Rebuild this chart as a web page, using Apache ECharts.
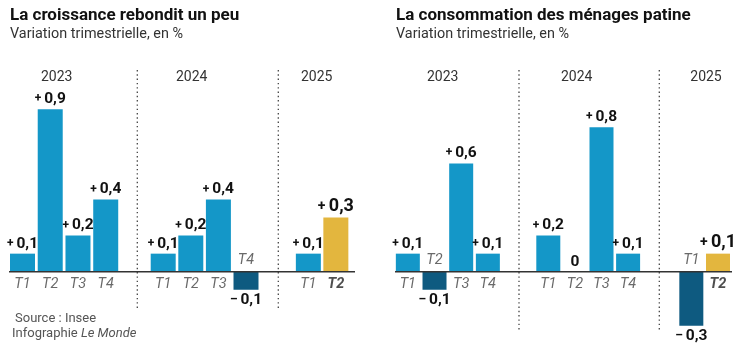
<!DOCTYPE html>
<html><head><meta charset="utf-8">
<script src="https://cdn.jsdelivr.net/npm/echarts@6/dist/echarts.min.js"></script>
<style>html,body{margin:0;padding:0;background:#fff}#c{width:740px;height:345px}</style>
</head><body><div id="c"></div>
<script>
// ---- data ----
const years = ['2023', '2024', '2025'];
const quarters2023 = ['T1', 'T2', 'T3', 'T4'];
const quarters2024 = ['T1', 'T2', 'T3', 'T4'];
const quarters2025 = ['T1', 'T2'];
const pib2023 = [0.1, 0.9, 0.2, 0.4];
const pib2024 = [0.1, 0.2, 0.4, -0.1];
const pib2025 = [0.1, 0.3];
const conso2023 = [0.1, -0.1, 0.6, 0.1];
const conso2024 = [0.2, 0, 0.8, 0.1];
const conso2025 = [-0.3, 0.1];
const titles = ['La croissance rebondit un peu', 'La consommation des ménages patine'];
const subtitle = 'Variation trimestrielle, en %';

// ---- style / layout ----
const FONT = 'Roboto';
const BLUE = '#1497c8', DARK = '#0e5a80', GOLD = '#e3b63e';
const quarterSets = [quarters2023, quarters2024, quarters2025];
const panels = [
  { values: [pib2023, pib2024, pib2025], grids: [[8.6, 111], [149.4, 110.4], [294.6, 55]], barWidth: 25,
    yearX: [56.7, 191.7, 316.7], dividers: [137.3, 278.3], divBottom: 308, base: [9, 355], titleX: 10 },
  { values: [conso2023, conso2024, conso2025], grids: [[394.5, 106.7], [535, 106.4], [678, 53.3]], barWidth: 24,
    yearX: [442.7, 576.7, 706], dividers: [519, 659.3], divBottom: 332, base: [395, 732], titleX: 396 }
];
const GRID_TOP = 91.2, GRID_H = 252.7, YMIN = -0.4, YMAX = 1.0;

function fmtVal(v, big) {
  const s = big ? 'L' : '';
  if (v === 0) return '{n' + s + '|0}';
  const sign = v > 0 ? '+' : '–';
  return '{s' + s + '|' + sign + ' }{n' + s + '|' + Math.abs(v).toFixed(1).replace('.', ',') + '}';
}
const valRich = {
  s: { fontFamily: FONT, fontSize: 12, fontWeight: 'bold', color: '#111' },
  n: { fontFamily: FONT, fontSize: 15.5, fontWeight: 'bold', color: '#111' },
  sL: { fontFamily: FONT, fontSize: 14, fontWeight: 'bold', color: '#111' },
  nL: { fontFamily: FONT, fontSize: 18, fontWeight: 'bold', color: '#111' }
};
const catRich = {
  n: { fontFamily: FONT, fontSize: 14.5, fontStyle: 'italic', color: '#444' },
  b: { fontFamily: FONT, fontSize: 14.5, fontStyle: 'italic', fontWeight: 'bold', color: '#222' }
};

const grid = [], xAxis = [], yAxis = [], series = [], graphic = [];
let k = 0;
panels.forEach((p, pi) => {
  p.values.forEach((vals, g) => {
    const cats = quarterSets[g];
    const last = g === 2 ? cats.length - 1 : -1;
    grid.push({ left: p.grids[g][0], width: p.grids[g][1], top: GRID_TOP, height: GRID_H,
      containLabel: false, outerBoundsMode: 'none' });
    xAxis.push({
      type: 'category', gridIndex: k, data: cats,
      axisLine: { show: false }, axisTick: { show: false }, axisLabel: { show: false }, splitLine: { show: false }
    });
    yAxis.push({ type: 'value', gridIndex: k, min: YMIN, max: YMAX, show: false, splitLine: { show: false } });
    series.push({
      type: 'bar', xAxisIndex: k, yAxisIndex: k, barWidth: p.barWidth, silent: true,
      data: vals.map((v, i) => ({
        value: v,
        itemStyle: { color: i === last ? GOLD : (v < 0 ? DARK : BLUE) },
        label: { position: v < 0 ? 'bottom' : 'top' }
      })),
      label: {
        show: true, distance: 2,
        formatter: (pr) => fmtVal(pr.value, pr.dataIndex === last),
        rich: valRich
      }
    });
    // quarter labels on the baseline: below it, or above it for negative bars
    series.push({
      type: 'scatter', xAxisIndex: k, yAxisIndex: k, symbolSize: 0, silent: true,
      data: vals.map((v) => ({ value: 0, label: { position: v < 0 ? 'top' : 'bottom', distance: v < 0 ? 4 : 5 } })),
      label: {
        show: true,
        formatter: (pr) => pr.dataIndex === last ? '{b|' + cats[pr.dataIndex] + '}' : '{n|' + cats[pr.dataIndex] + '}',
        rich: catRich
      }
    });
    k++;
  });
  years.forEach((y, i) => {
    graphic.push({ type: 'text', x: p.yearX[i], y: 77.7, silent: true,
      style: { text: y, fontFamily: FONT, fontSize: 14, fill: '#333', align: 'center', verticalAlign: 'middle' } });
  });
  p.dividers.forEach((x) => {
    graphic.push({ type: 'line', silent: true, shape: { x1: x, y1: 70, x2: x, y2: p.divBottom },
      style: { stroke: '#444', lineWidth: 1.3, lineDash: [1.4, 2.9] } });
  });
  graphic.push({ type: 'text', x: p.titleX, y: 16, silent: true,
    style: { text: titles[pi], fontFamily: FONT, fontSize: 17, fontWeight: 'bold', fill: '#111', verticalAlign: 'middle' } });
  graphic.push({ type: 'text', x: p.titleX, y: 34.5, silent: true,
    style: { text: subtitle, fontFamily: FONT, fontSize: 14.4, fill: '#333', verticalAlign: 'middle' } });
});
graphic.push({ type: 'text', x: 15, y: 318.5, silent: true,
  style: { text: 'Source : Insee', fontFamily: FONT, fontSize: 13, fill: '#555', verticalAlign: 'middle' } });
graphic.push({ type: 'text', x: 12, y: 333.5, silent: true,
  style: { text: 'Infographie {i|Le Monde}', fontFamily: FONT, fontSize: 13, fill: '#555', verticalAlign: 'middle',
    rich: { i: { fontFamily: FONT, fontSize: 13, fontStyle: 'italic', fill: '#555' } } } });

const chart = echarts.init(document.getElementById('c'));
chart.setOption({ animation: false, backgroundColor: '#fff', grid, xAxis, yAxis, series, graphic });

const y0L = chart.convertToPixel({ gridIndex: 0 }, [0, 0])[1];
const y0R = chart.convertToPixel({ gridIndex: 3 }, [0, 0])[1];
const baseY = [y0L, y0R];
panels.forEach((p, pi) => {
  graphic.push({ type: 'line', silent: true, z: 10,
    shape: { x1: p.base[0], y1: baseY[pi], x2: p.base[1], y2: baseY[pi] },
    style: { stroke: '#333', lineWidth: 1.5 } });
});
chart.setOption({ graphic });
</script></body></html>
